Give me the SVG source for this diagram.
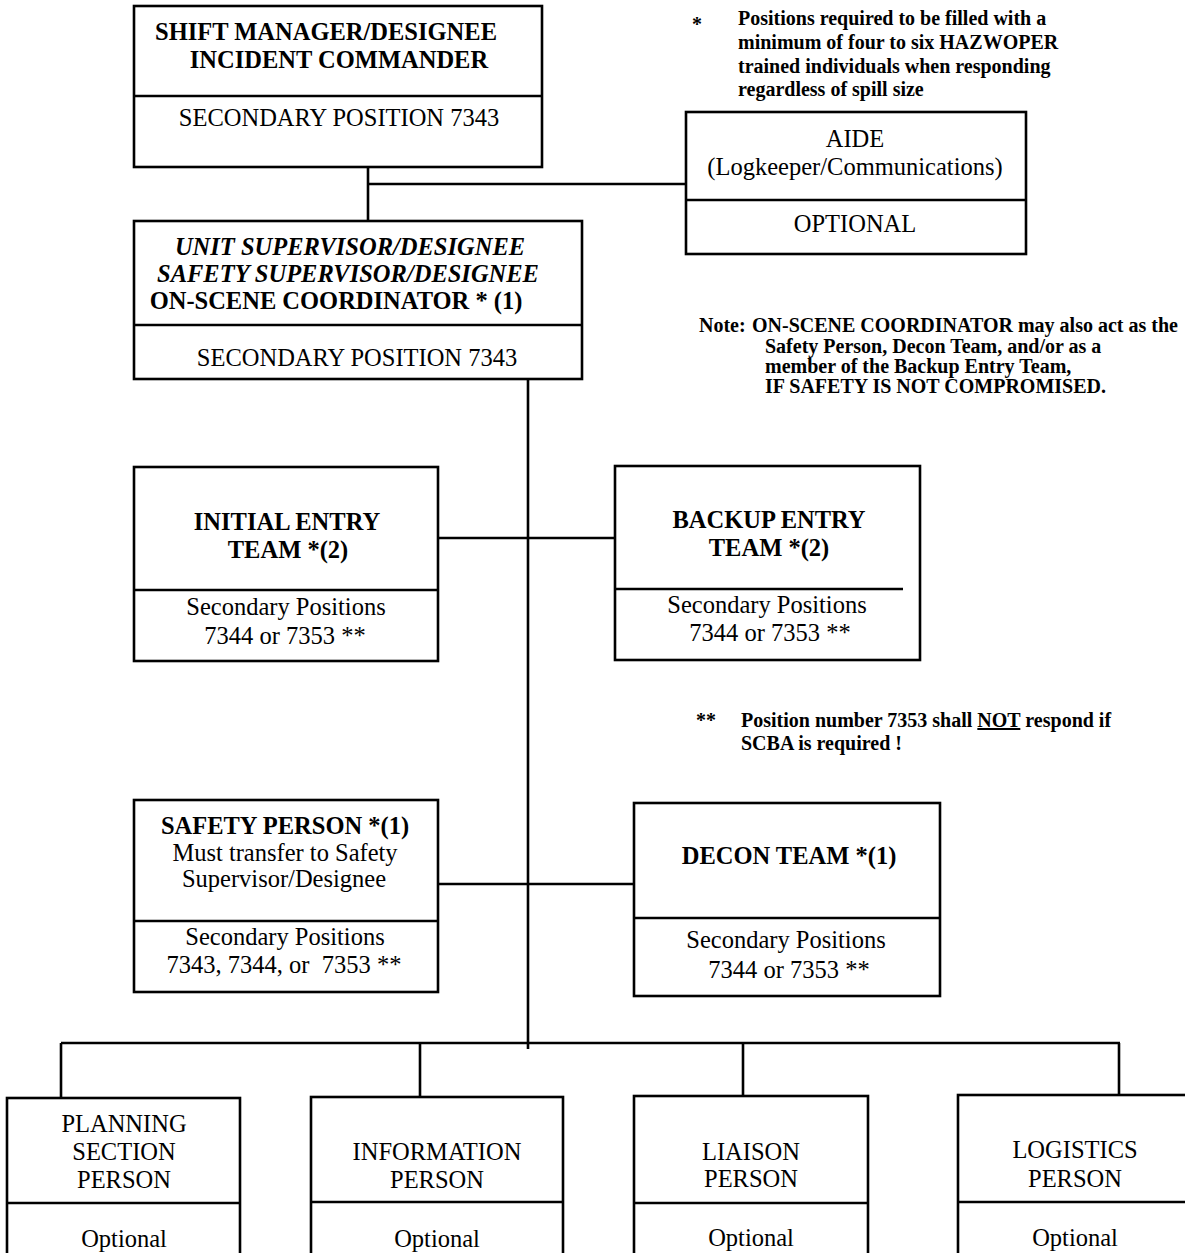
<svg xmlns="http://www.w3.org/2000/svg" width="1185" height="1253" viewBox="0 0 1185 1253">
<style>
text{font-family:"Liberation Serif","Times New Roman",serif;fill:#000}
.t{font-size:24.5px;text-anchor:middle}
.b{font-weight:bold}
.bi{font-weight:bold;font-style:italic}
.n{font-size:20px;font-weight:bold}
.box{fill:#fff;stroke:#000;stroke-width:2.6}
.div{stroke:#000;stroke-width:2.6}
.c{stroke:#000;stroke-width:2.6;fill:none}
</style>
<rect width="1185" height="1253" fill="#fff"/>
<g id="connectors">
<line class="c" x1="368" y1="167" x2="368" y2="221"/>
<line class="c" x1="368" y1="184" x2="686" y2="184"/>
<line class="c" x1="528" y1="379" x2="528" y2="1049"/>
<line class="c" x1="438" y1="538" x2="615" y2="538"/>
<line class="c" x1="438" y1="884" x2="634" y2="884"/>
<line class="c" x1="61" y1="1043" x2="1120" y2="1043"/>
<line class="c" x1="61" y1="1043" x2="61" y2="1098"/>
<line class="c" x1="420" y1="1043" x2="420" y2="1097"/>
<line class="c" x1="743" y1="1043" x2="743" y2="1096"/>
<line class="c" x1="1119" y1="1043" x2="1119" y2="1095"/>
</g>
<g id="shift-manager">
<rect class="box" x="134" y="6" width="408" height="161"/>
<line class="div" x1="134" y1="96" x2="542" y2="96"/>
<text class="t b" x="326" y="40">SHIFT MANAGER/DESIGNEE</text>
<text class="t b" x="339" y="68">INCIDENT COMMANDER</text>
<text class="t" x="339" y="126">SECONDARY POSITION 7343</text>
</g>
<g id="aide">
<rect class="box" x="686" y="112" width="340" height="142"/>
<line class="div" x1="686" y1="200" x2="1026" y2="200"/>
<text class="t" x="855" y="147">AIDE</text>
<text class="t" x="855" y="175">(Logkeeper/Communications)</text>
<text class="t" x="855" y="232">OPTIONAL</text>
</g>
<g id="unit-supervisor">
<rect class="box" x="134" y="221" width="448" height="158"/>
<line class="div" x1="134" y1="325" x2="582" y2="325"/>
<text class="t bi" x="350" y="255">UNIT SUPERVISOR/DESIGNEE</text>
<text class="t bi" x="348" y="282">SAFETY SUPERVISOR/DESIGNEE</text>
<text class="t b" x="336" y="309">ON-SCENE COORDINATOR * (1)</text>
<text class="t" x="357" y="366">SECONDARY POSITION 7343</text>
</g>
<g id="note-star">
<text class="n" x="692" y="31">*</text>
<text class="n" x="738" y="25">Positions required to be filled with a</text>
<text class="n" x="738" y="49">minimum of four to six HAZWOPER</text>
<text class="n" x="738" y="73">trained individuals when responding</text>
<text class="n" x="738" y="96">regardless of spill size</text>
</g>
<g id="note-osc">
<text class="n" x="699" y="332">Note:</text>
<text class="n" x="752" y="332">ON-SCENE COORDINATOR may also act as the</text>
<text class="n" x="765" y="353">Safety Person, Decon Team, and/or as a</text>
<text class="n" x="765" y="373">member of the Backup Entry Team,</text>
<text class="n" x="765" y="393">IF SAFETY IS NOT COMPROMISED.</text>
</g>
<g id="initial-entry">
<rect class="box" x="134" y="467" width="304" height="194"/>
<line class="div" x1="134" y1="590" x2="438" y2="590"/>
<text class="t b" x="287" y="530">INITIAL ENTRY</text>
<text class="t b" x="288" y="558">TEAM *(2)</text>
<text class="t" x="286" y="615">Secondary Positions</text>
<text class="t" x="285" y="644">7344 or 7353 **</text>
</g>
<g id="backup-entry">
<rect class="box" x="615" y="466" width="305" height="194"/>
<line class="div" x1="615" y1="589" x2="903" y2="589"/>
<text class="t b" x="769" y="528">BACKUP ENTRY</text>
<text class="t b" x="769" y="556">TEAM *(2)</text>
<text class="t" x="767" y="613">Secondary Positions</text>
<text class="t" x="770" y="641">7344 or 7353 **</text>
</g>
<g id="note-scba">
<text class="n" x="696" y="727">**</text>
<text class="n" x="741" y="727">Position number 7353 shall <tspan text-decoration="underline">NOT</tspan> respond if</text>
<text class="n" x="741" y="750">SCBA is required !</text>
</g>
<g id="safety-person">
<rect class="box" x="134" y="800" width="304" height="192"/>
<line class="div" x1="134" y1="921" x2="438" y2="921"/>
<text class="t b" x="285" y="834">SAFETY PERSON *(1)</text>
<text class="t" x="285" y="861">Must transfer to Safety</text>
<text class="t" x="284" y="887">Supervisor/Designee</text>
<text class="t" x="285" y="945">Secondary Positions</text>
<text class="t" x="284" y="973" xml:space="preserve">7343, 7344, or  7353 **</text>
</g>
<g id="decon-team">
<rect class="box" x="634" y="803" width="306" height="193"/>
<line class="div" x1="634" y1="918" x2="940" y2="918"/>
<text class="t b" x="789" y="864">DECON TEAM *(1)</text>
<text class="t" x="786" y="948">Secondary Positions</text>
<text class="t" x="789" y="978">7344 or 7353 **</text>
</g>
<g id="planning">
<rect class="box" x="7" y="1098" width="233" height="165"/>
<line class="div" x1="7" y1="1203" x2="240" y2="1203"/>
<text class="t" x="124" y="1132">PLANNING</text>
<text class="t" x="124" y="1160">SECTION</text>
<text class="t" x="124" y="1188">PERSON</text>
<text class="t" x="124" y="1247">Optional</text>
</g>
<g id="information">
<rect class="box" x="311" y="1097" width="252" height="166"/>
<line class="div" x1="311" y1="1202" x2="563" y2="1202"/>
<text class="t" x="437" y="1160">INFORMATION</text>
<text class="t" x="437" y="1188">PERSON</text>
<text class="t" x="437" y="1247">Optional</text>
</g>
<g id="liaison">
<rect class="box" x="634" y="1096" width="234" height="167"/>
<line class="div" x1="634" y1="1203" x2="868" y2="1203"/>
<text class="t" x="751" y="1160">LIAISON</text>
<text class="t" x="751" y="1187">PERSON</text>
<text class="t" x="751" y="1246">Optional</text>
</g>
<g id="logistics">
<rect class="box" x="958" y="1095" width="240" height="168"/>
<line class="div" x1="958" y1="1202" x2="1198" y2="1202"/>
<text class="t" x="1075" y="1158">LOGISTICS</text>
<text class="t" x="1075" y="1187">PERSON</text>
<text class="t" x="1075" y="1246">Optional</text>
</g>
</svg>
